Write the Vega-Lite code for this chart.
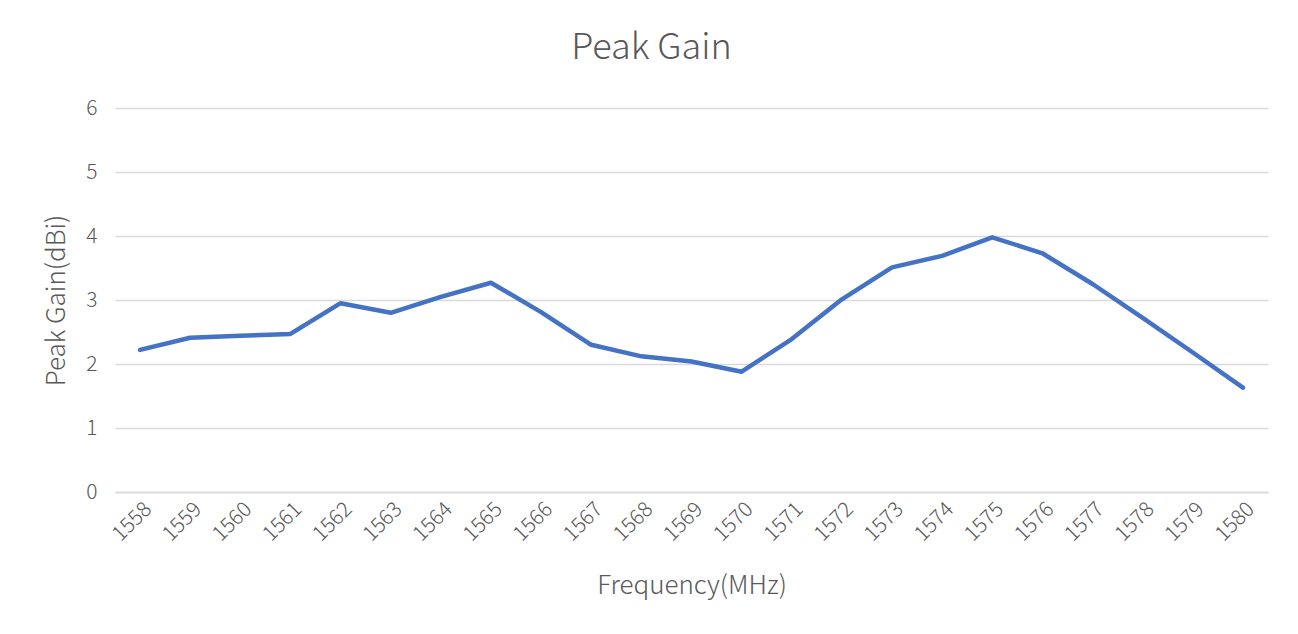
{
  "$schema": "https://vega.github.io/schema/vega-lite/v6.json",
  "autosize": {"type": "none"},
  "width": 1153,
  "height": 384,
  "padding": {"left": 115, "top": 108, "right": 30, "bottom": 142},
  "background": "white",
  "title": {"text": "Peak Gain", "font": "Noto Sans CJK SC", "fontSize": 36, "fontWeight": 300, "color": "#595959", "offset": 30, "dx": -40},
  "config": {"view": {"stroke": null}, "font": "Noto Sans CJK SC"},
  "data": {"values": [
    {"f": "1558", "g": 2.22}, {"f": "1559", "g": 2.41}, {"f": "1560", "g": 2.44}, {"f": "1561", "g": 2.47},
    {"f": "1562", "g": 2.95}, {"f": "1563", "g": 2.80}, {"f": "1564", "g": 3.05}, {"f": "1565", "g": 3.27},
    {"f": "1566", "g": 2.81}, {"f": "1567", "g": 2.30}, {"f": "1568", "g": 2.12}, {"f": "1569", "g": 2.04},
    {"f": "1570", "g": 1.88}, {"f": "1571", "g": 2.39}, {"f": "1572", "g": 3.01}, {"f": "1573", "g": 3.51},
    {"f": "1574", "g": 3.69}, {"f": "1575", "g": 3.98}, {"f": "1576", "g": 3.73}, {"f": "1577", "g": 3.25},
    {"f": "1578", "g": 2.72}, {"f": "1579", "g": 2.18}, {"f": "1580", "g": 1.63}
  ]},
  "mark": {"type": "line", "color": "#4472C4", "strokeWidth": 4.5, "strokeCap": "round", "strokeJoin": "round"},
  "encoding": {
    "x": {"field": "f", "type": "ordinal", "sort": null, "scale": {"type": "point", "padding": 0.5},
      "axis": {"title": "Frequency(MHz)", "titleFont": "Noto Sans CJK SC", "titleFontSize": 26, "titleFontWeight": 300, "titleColor": "#595959", "titlePadding": 28,
        "labelAngle": -45, "labelFont": "Noto Sans CJK SC", "labelFontWeight": 300, "labelFontSize": 21, "labelColor": "#595959", "labelPadding": 6,
        "domainColor": "#d9d9d9", "domainWidth": 1.5, "ticks": false, "grid": false}},
    "y": {"field": "g", "type": "quantitative", "scale": {"domain": [0, 6], "nice": false},
      "axis": {"title": "Peak Gain(dBi)", "titleFont": "Noto Sans CJK SC", "titleFontSize": 26, "titleFontWeight": 300, "titleColor": "#595959", "titlePadding": 16,
        "values": [0, 1, 2, 3, 4, 5, 6], "labelFont": "Noto Sans CJK SC", "labelFontWeight": 300, "labelFontSize": 21, "labelColor": "#595959", "labelPadding": 18,
        "domain": false, "ticks": false, "grid": true, "gridColor": "#d9d9d9", "gridWidth": 1.5}}
  }
}
